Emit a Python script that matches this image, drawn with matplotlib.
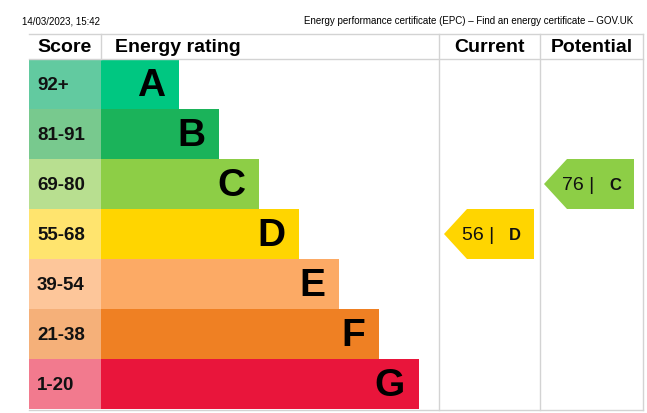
import matplotlib.pyplot as plt
from matplotlib.patches import Rectangle, Polygon

plt.rcParams['font.family'] = ['Liberation Sans', 'DejaVu Sans']

# EPC bands
bandas = ['A', 'B', 'C', 'D', 'E', 'F', 'G']
faixas = ['92+', '81-91', '69-80', '55-68', '39-54', '21-38', '1-20']
cores_barra = ['#00c781', '#1bb35a', '#8dce46', '#ffd500', '#fcaa65', '#ef8023', '#e9153b']
cores_faixa = ['#62caa0', '#78c98e', '#b8df90', '#ffe46e', '#fdc69a', '#f5b079', '#f27a8e']

atual_valor, atual_banda = 56, 'D'
potencial_valor, potencial_banda = 76, 'C'

data_hora = '14/03/2023, 15:42'
titulo_pagina = 'Energy performance certificate (EPC) – Find an energy certificate – GOV.UK'

fig = plt.figure(figsize=(6.47, 4.13), dpi=100)
ax = fig.add_axes([0, 0, 1, 1])
ax.set_xlim(0, 647)
ax.set_ylim(413, 0)
ax.axis('off')

x0, x_score, x_cur, x_pot, x_fim = 29, 101, 439, 540, 643
y_topo, y_cab, altura = 34, 59, 50
cinza = '#d3d3d3'

ax.text(22, 21, data_hora, fontsize=7, va='center', ha='left')
ax.text(633, 21, titulo_pagina, fontsize=7, va='center', ha='right')

# linhas da tabela
ax.plot([x0, x_fim], [y_topo, y_topo], color=cinza, lw=1)
ax.plot([x0, x_fim], [y_cab, y_cab], color=cinza, lw=1)
y_base = y_cab + altura * len(bandas)
ax.plot([x0, x_fim], [y_base + 1, y_base + 1], color=cinza, lw=1)
ax.plot([x_score, x_score], [y_topo, y_cab], color=cinza, lw=1)
for xv in (x_cur, x_pot, x_fim):
    ax.plot([xv, xv], [y_topo, y_base + 1], color=cinza, lw=1)

y_txt = (y_topo + y_cab) / 2 + 1
ax.text((x0 + x_score) / 2, y_txt, 'Score', fontsize=14, weight='bold', ha='center', va='center')
ax.text(115, y_txt, 'Energy rating', fontsize=14, weight='bold', ha='left', va='center')
ax.text((x_cur + x_pot) / 2, y_txt, 'Current', fontsize=14, weight='bold', ha='center', va='center')
ax.text((x_pot + x_fim) / 2, y_txt, 'Potential', fontsize=14, weight='bold', ha='center', va='center')

for i, (b, f) in enumerate(zip(bandas, faixas)):
    y = y_cab + i * altura
    largura = 78 + 40 * i
    ax.add_patch(Rectangle((x0, y), x_score - x0, altura, color=cores_faixa[i], lw=0))
    ax.add_patch(Rectangle((x_score, y), largura, altura, color=cores_barra[i], lw=0))
    ax.text(37, y + altura / 2 + 1, f, fontsize=13.5, weight='bold', ha='left', va='center', color='#111111')
    ax.text(x_score + largura - 14, y + altura / 2 + 2, b, fontsize=28, weight='bold',
            ha='right', va='center', color='black')


def seta(valor, banda, x_esq, x_dir):
    i = bandas.index(banda)
    y = y_cab + i * altura
    meio = y + altura / 2
    pts = [(x_esq, meio), (x_esq + 23, y), (x_dir, y), (x_dir, y + altura), (x_esq + 23, y + altura)]
    ax.add_patch(Polygon(pts, closed=True, color=cores_barra[i], lw=0))
    ax.text(x_esq + 18, meio + 1, f'{valor} |', fontsize=14, ha='left', va='center', color='#111111')
    ax.text(x_dir - 13, meio + 2, banda, fontsize=12, weight='bold', ha='right', va='center', color='#111111')


seta(atual_valor, atual_banda, 444, 534)
seta(potencial_valor, potencial_banda, 544, 634)

fig.savefig('out.png', dpi=100)
